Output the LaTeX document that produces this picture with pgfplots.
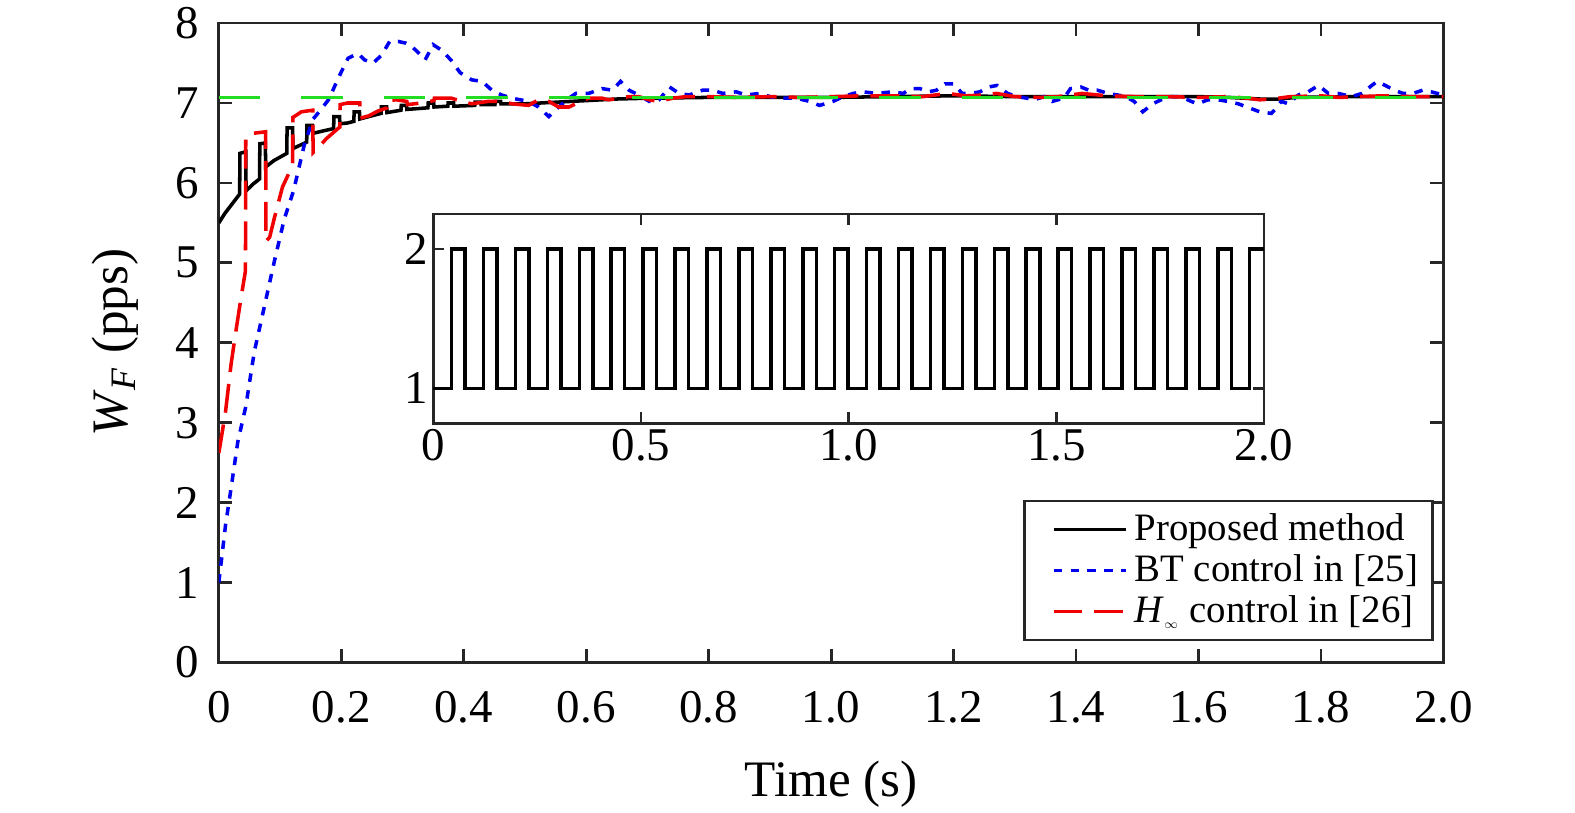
\documentclass[border=0pt]{standalone}
\usepackage{pgfplots}
\pgfplotsset{compat=1.18}
\usepackage{graphicx}
\usepackage{fontspec}
\setmainfont{Liberation Serif}
\definecolor{ax}{RGB}{38,38,38}
\definecolor{mgreen}{RGB}{34,221,34}
\definecolor{mblue}{RGB}{0,0,240}
\definecolor{mred}{RGB}{240,0,0}
\begin{document}
\begin{tikzpicture}
\begin{axis}[name=main,
  scale only axis, width=12.2cm, height=6.37cm,
  xmin=0, xmax=2, ymin=0, ymax=8,
  xtick={0,0.2,0.4,0.6,0.8,1.0,1.2,1.4,1.6,1.8,2.0},
  xticklabels={0,0.2,0.4,0.6,0.8,1.0,1.2,1.4,1.6,1.8,2.0},
  ytick={0,1,2,3,4,5,6,7,8},
  yticklabels={0,1,2,3,4,5,6,7,8},
  tick align=inside, major tick length=0.13cm,
  axis line style={draw=ax, line width=0.8pt},
  every tick/.style={draw=ax, line width=0.8pt},
  ticklabel style={font=\fontsize{13.3}{16}\selectfont, text=black},
  yticklabel style={xshift=-2pt},
  xticklabel style={yshift=-4.7pt},
  label style={font=\fontsize{14.5}{17}\selectfont},
  xlabel={Time (s)},
  xlabel style={at={(axis description cs:0.5,-0.19)}, anchor=center},
  ylabel={\textit{W}\textsubscript{\textit{F}} (pps)},
  ylabel style={at={(axis description cs:-0.0844,0.5)}, anchor=center, rotate=0},
  legend cell align=left,
  legend style={at={(0.992,0.033)}, anchor=south east, draw=ax, line width=0.8pt,
    font=\fontsize{11}{12.5}\selectfont, inner xsep=2pt, inner ysep=1.5pt, row sep=-1.5pt},
  legend image code/.code={\path (0cm,0cm) (0.92cm,0cm); \draw[#1] (0.2cm,0cm) -- (0.92cm,0cm);},
]
\coordinate (bl) at (rel axis cs:0,0);
\coordinate (tr) at (rel axis cs:1,1);
\addplot[black, line width=1pt] coordinates {
(0,5.50) (0.010,5.62) (0.020,5.72) (0.034,5.86) (0.0345,6.37) (0.044,6.39) (0.0445,5.90) (0.055,5.98) (0.0665,6.05) (0.067,6.49) (0.076,6.50) (0.0765,6.20) (0.090,6.28) (0.111,6.37) (0.1115,6.69) (0.1205,6.69) (0.121,6.43) (0.135,6.48) (0.1435,6.51) (0.144,6.72) (0.153,6.72) (0.1535,6.62) (0.170,6.65) (0.1875,6.68) (0.188,6.83) (0.1972,6.83) (0.1977,6.74) (0.210,6.75) (0.2205,6.77) (0.221,6.89) (0.2297,6.89) (0.2302,6.80) (0.250,6.84) (0.2650,6.87) (0.2655,6.95) (0.2741,6.95) (0.2746,6.88) (0.290,6.90) (0.2975,6.91) (0.298,6.97) (0.3066,6.97) (0.3071,6.92) (0.325,6.93) (0.3415,6.94) (0.342,7.00) (0.3509,7.00) (0.3514,6.95) (0.374,6.96) (0.3745,7.00) (0.3834,7.00) (0.3839,6.96) (0.418,6.97) (0.4185,7.01) (0.4278,7.01) (0.4283,6.98) (0.451,6.98) (0.4515,7.02) (0.4603,7.02) (0.4608,6.99) (0.50,6.99) (0.55,7.01) (0.60,7.03) (0.65,7.05) (0.70,7.06) (0.80,7.07) (0.90,7.07) (1.00,7.07) (1.10,7.08) (1.20,7.09) (1.30,7.08) (1.40,7.08) (1.50,7.08) (1.60,7.08) (1.65,7.07) (1.70,7.05) (1.73,7.05) (1.76,7.07) (1.85,7.08) (2.00,7.08)};
\addlegendentry{Proposed method}
\addplot[mblue, line width=1pt, dash pattern=on 2.4pt off 2.4pt] coordinates {
(0,1.00) (0.011,1.72) (0.020,2.18) (0.031,2.76) (0.044,3.20) (0.058,3.89) (0.074,4.44) (0.091,5.03) (0.107,5.55) (0.122,5.90) (0.140,6.49) (0.154,6.80) (0.165,6.90) (0.180,7.05) (0.195,7.31) (0.211,7.56) (0.227,7.62) (0.238,7.54) (0.252,7.50) (0.266,7.60) (0.279,7.77) (0.293,7.77) (0.305,7.75) (0.315,7.71) (0.327,7.62) (0.337,7.54) (0.350,7.73) (0.364,7.66) (0.380,7.53) (0.394,7.38) (0.413,7.29) (0.430,7.27) (0.446,7.16) (0.462,7.10) (0.479,7.06) (0.506,7.02) (0.522,6.95) (0.539,6.83) (0.555,6.95) (0.570,7.05) (0.583,7.12) (0.604,7.12) (0.626,7.18) (0.643,7.16) (0.656,7.27) (0.670,7.16) (0.686,7.10) (0.703,7.02) (0.719,7.04) (0.736,7.20) (0.752,7.12) (0.768,7.10) (0.790,7.16) (0.807,7.16) (0.823,7.12) (0.845,7.14) (0.861,7.10) (0.883,7.12) (0.900,7.08) (0.916,7.06) (0.943,7.06) (0.965,7.02) (0.981,6.97) (1.003,7.02) (1.020,7.08) (1.036,7.12) (1.052,7.14) (1.074,7.12) (1.100,7.14) (1.118,7.12) (1.129,7.18) (1.145,7.18) (1.159,7.14) (1.172,7.16) (1.186,7.24) (1.200,7.24) (1.214,7.12) (1.227,7.12) (1.243,7.14) (1.257,7.20) (1.271,7.22) (1.288,7.12) (1.304,7.08) (1.320,7.06) (1.331,7.04) (1.348,7.08) (1.361,7.02) (1.380,7.06) (1.391,7.18) (1.408,7.20) (1.421,7.16) (1.435,7.16) (1.452,7.12) (1.468,7.10) (1.481,7.08) (1.495,7.02) (1.509,6.89) (1.525,6.99) (1.539,7.04) (1.555,7.08) (1.571,7.08) (1.588,7.02) (1.599,6.99) (1.615,7.04) (1.632,7.04) (1.648,7.02) (1.665,6.99) (1.686,6.93) (1.700,6.89) (1.719,6.87) (1.725,6.92) (1.735,7.02) (1.747,6.99) (1.763,7.10) (1.779,7.14) (1.796,7.22) (1.812,7.12) (1.828,7.12) (1.850,7.08) (1.867,7.12) (1.883,7.22) (1.892,7.27) (1.905,7.22) (1.920,7.16) (1.934,7.12) (1.950,7.12) (1.966,7.16) (1.980,7.14) (2.000,7.10)};
\addlegendentry{BT control in [25]}
\addplot[mred, line width=1pt, dash pattern=on 8.2pt off 3.4pt] coordinates {
(0,2.62) (0.006,2.90) (0.011,3.14) (0.020,3.73) (0.028,4.15) (0.036,4.55) (0.0435,4.90) (0.044,6.58) (0.055,6.62) (0.0765,6.64) (0.077,5.27) (0.083,5.32) (0.091,5.57) (0.104,5.95) (0.1205,6.22) (0.121,6.82) (0.135,6.89) (0.1534,6.91) (0.154,6.38) (0.165,6.46) (0.175,6.55) (0.190,6.65) (0.1977,6.70) (0.198,6.98) (0.210,7.00) (0.2302,7.00) (0.231,6.81) (0.245,6.84) (0.260,6.90) (0.2746,6.94) (0.275,7.03) (0.290,7.04) (0.3071,7.02) (0.308,6.98) (0.330,7.00) (0.3514,7.03) (0.352,7.06) (0.380,7.06) (0.397,7.02) (0.413,6.99) (0.440,7.02) (0.462,7.02) (0.479,6.99) (0.506,6.97) (0.522,7.04) (0.539,7.02) (0.555,6.95) (0.572,6.95) (0.583,6.99) (0.604,7.06) (0.626,7.06) (0.637,7.04) (0.670,7.08) (0.686,7.08) (0.703,7.04) (0.719,7.02) (0.741,7.06) (0.763,7.08) (0.800,7.08) (0.850,7.07) (0.900,7.08) (0.950,7.07) (1.000,7.08) (1.050,7.09) (1.100,7.09) (1.150,7.08) (1.190,7.12) (1.220,7.09) (1.250,7.10) (1.270,7.12) (1.300,7.08) (1.340,7.07) (1.370,7.08) (1.410,7.12) (1.450,7.09) (1.500,7.08) (1.550,7.08) (1.600,7.07) (1.650,7.08) (1.680,7.06) (1.700,7.04) (1.720,7.05) (1.750,7.08) (1.800,7.09) (1.830,7.07) (1.860,7.08) (1.900,7.09) (1.950,7.08) (2.000,7.08)};
\addlegendentry{\textit{H}\textsubscript{\scalebox{0.45}{$\infty$}} control in [26]}
\addplot[mgreen, line width=1pt, dash pattern=on 11.7pt off 11.7pt, forget plot] coordinates {(0,7.07) (2,7.07)};
\end{axis}
\begin{axis}[
  at={(2.137cm,2.383cm)}, anchor=south west,
  scale only axis, width=8.276cm, height=2.084cm,
  xmin=0, xmax=2, ymin=0.75, ymax=2.25,
  xtick={0,0.5,1.0,1.5,2.0}, xticklabels={0,0.5,1.0,1.5,2.0},
  ytick={1,2}, yticklabels={1,2},
  tick align=inside, major tick length=0.11cm,
  axis line style={draw=ax, line width=0.8pt},
  every tick/.style={draw=ax, line width=0.8pt},
  ticklabel style={font=\fontsize{13.3}{16}\selectfont, text=black},
  yticklabel style={xshift=2pt},
  xticklabel style={yshift=1.7pt},
  axis background/.style={fill=white},
]
\addplot[black, line width=1pt, const plot] coordinates {
(0,1) (0.0440,2) (0.0765,1) (0.1209,2) (0.1534,1) (0.1977,2) (0.2302,1) (0.2746,2) (0.3071,1) (0.3514,2) (0.3839,1) (0.4283,2) (0.4608,1) (0.5052,2) (0.5377,1) (0.5820,2) (0.6145,1) (0.6589,2) (0.6914,1) (0.7357,2) (0.7682,1) (0.8126,2) (0.8451,1) (0.8895,2) (0.9220,1) (0.9663,2) (0.9988,1) (1.0432,2) (1.0757,1) (1.1200,2) (1.1525,1) (1.1969,2) (1.2294,1) (1.2738,2) (1.3063,1) (1.3506,2) (1.3831,1) (1.4275,2) (1.4600,1) (1.5043,2) (1.5368,1) (1.5812,2) (1.6137,1) (1.6581,2) (1.6906,1) (1.7349,2) (1.7674,1) (1.8118,2) (1.8443,1) (1.8886,2) (1.9211,1) (1.9655,2) (2.0,2)};
\end{axis}
\pgfresetboundingbox
\path[use as bounding box] ([shift={(-2.18cm,-1.49cm)}]bl) rectangle ([shift={(1.311cm,0.23cm)}]tr);
\end{tikzpicture}
\end{document}
